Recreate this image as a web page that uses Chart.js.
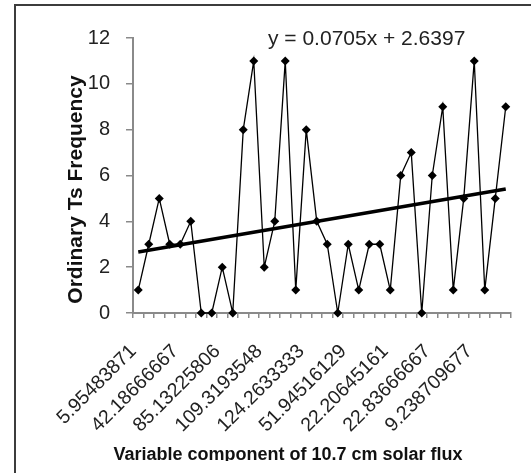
<!DOCTYPE html>
<html><head><meta charset="utf-8">
<script src="https://cdn.jsdelivr.net/npm/chart.js@4"></script>
<style>html,body{margin:0;padding:0;background:#fff}canvas{display:block}</style>
</head><body>
<canvas id="c" width="531" height="473"></canvas>
<script>
const categories = ['5.95483871','','','','42.18666667','','','','85.13225806','','','','109.3193548','','','','124.2633333','','','','51.94516129','','','','22.20645161','','','','22.83666667','','','','9.238709677','','',''];
const frequency = [1,3,5,3,3,4,0,0,2,0,8,11,2,4,11,1,8,4,3,0,3,1,3,3,1,6,7,0,6,9,1,5,11,1,5,9];
const trendEnds = [2.66, 5.41];
const yTickValues = [0,2,4,6,8,10,12];
const equationText = 'y = 0.0705x + 2.6397';
const xTitleText = 'Variable component of 10.7 cm solar flux';
const yTitleText = 'Ordinary Ts Frequency';

const FONT = "'Liberation Sans', Arial, sans-serif";
const trendData = categories.map(() => null);
trendData[0] = trendEnds[0];
trendData[trendData.length - 1] = trendEnds[1];

function patchTitle(scale, dx, dy, clipBottom) {
  if (!scale || scale._patched) return;
  const orig = scale.drawTitle;
  scale.drawTitle = function () {
    const c = this.ctx;
    c.save();
    if (clipBottom) {
      c.beginPath();
      c.rect(0, 0, this.chart.width, clipBottom);
      c.clip();
    }
    c.translate(dx, dy);
    orig.call(this);
    c.restore();
  };
  scale._patched = true;
}

const framePlugin = {
  id: 'frame',
  beforeDraw(chart) {
    const ctx = chart.ctx;
    ctx.save();
    ctx.fillStyle = '#fff';
    ctx.fillRect(0, 0, chart.width, chart.height);
    ctx.strokeStyle = '#3c3c3c';
    ctx.lineWidth = 2;
    ctx.beginPath();
    ctx.moveTo(15, chart.height + 5);
    ctx.lineTo(15, 5);
    ctx.lineTo(chart.width + 5, 5);
    ctx.stroke();
    ctx.restore();
    patchTitle(chart.scales.x, -34, 1, 461);
    patchTitle(chart.scales.y, 0, 14, 0);
  },
  afterDraw(chart) {
    const ctx = chart.ctx;
    ctx.save();
    ctx.font = "21px " + FONT;
    ctx.fillStyle = '#222';
    ctx.textBaseline = 'alphabetic';
    ctx.textAlign = 'left';
    ctx.fillText(equationText, 268, 45);
    ctx.restore();
  }
};

new Chart(document.getElementById('c'), {
  type: 'line',
  data: {
    labels: categories,
    datasets: [
      {
        label: 'Linear trend',
        data: trendData,
        spanGaps: true,
        borderColor: '#000',
        borderWidth: 3.5,
        pointRadius: 0,
        tension: 0,
        clip: false
      },
      {
        label: 'Ordinary Ts Frequency',
        data: frequency,
        borderColor: '#000',
        borderWidth: 1.3,
        backgroundColor: '#000',
        pointStyle: 'rectRot',
        pointRadius: 4.5,
        pointBorderWidth: 0,
        pointBackgroundColor: '#000',
        tension: 0,
        clip: false
      }
    ]
  },
  options: {
    responsive: false,
    animation: false,
    layout: { padding: { left: 0, right: 20, top: 38, bottom: 0 }, autoPadding: false },
    plugins: { legend: { display: false }, tooltip: { enabled: false } },
    scales: {
      x: {
        offset: true,
        grid: { offset: true, drawOnChartArea: false, drawTicks: true, tickLength: 5, color: '#8a8a8a', lineWidth: 1.5 },
        border: { display: true, color: '#8a8a8a', width: 2 },
        ticks: {
          autoSkip: false, minRotation: 45, maxRotation: 45, padding: 22, labelOffset: -5,
          color: '#222', font: { family: FONT, size: 19.5 },
          callback: (v, i) => categories[i]
        },
        title: { display: true, text: xTitleText, color: '#111', font: { family: FONT, size: 18, weight: 'bold' }, padding: { top: 0, bottom: 8 } },
        afterFit(scale) { scale.height = 160; scale.paddingLeft = 0; scale.paddingRight = 0; }
      },
      y: {
        min: 0, max: 12,
        afterBuildTicks(scale) { scale.ticks = yTickValues.map(v => ({ value: v })); },
        grid: { drawOnChartArea: false, drawTicks: true, tickLength: 7, color: '#8a8a8a', lineWidth: 1.5 },
        border: { display: true, color: '#8a8a8a', width: 2 },
        ticks: { padding: 16, color: '#222', font: { family: FONT, size: 20 } },
        title: { display: true, text: yTitleText, color: '#111', font: { family: FONT, size: 21, weight: 'bold' }, padding: { top: 64, bottom: 0 } },
        afterFit(scale) { scale.width = 133; scale.paddingTop = 0; scale.paddingBottom = 0; }
      }
    }
  },
  plugins: [framePlugin]
});
</script>
</body></html>
